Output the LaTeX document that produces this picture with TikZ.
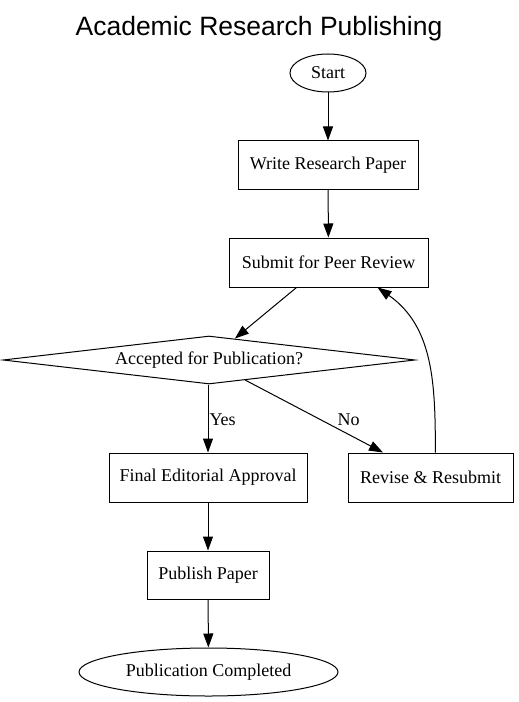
\documentclass[tikz,border=0pt]{standalone}
\usepackage{fontspec}
\setmainfont{Liberation Serif}
\newfontfamily\titlefont{Liberation Sans}
\usetikzlibrary{shapes.geometric,arrows.meta}
\begin{document}
\begin{tikzpicture}[x=1bp,y=-1bp,
  every node/.style={font=\fontsize{18bp}{20bp}\selectfont, inner sep=0pt},
  proc/.style={draw, rectangle, line width=1bp},
  term/.style={draw, ellipse, line width=1bp},
  dec/.style={draw, diamond, aspect=8.5, line width=1bp},
  arr/.style={-{Triangle[length=14bp,width=10bp]}, line width=1bp},
  lbl/.style={font=\fontsize{18bp}{20bp}\selectfont}]
\fill[white] (0,0) rectangle (519,702);
\useasboundingbox (0,0) rectangle (519,702);
\node[anchor=base, font=\titlefont\fontsize{26.5bp}{30bp}\selectfont] (title) at (259,36) {Academic Research Publishing};
\node[term, minimum width=76bp, minimum height=38bp] (start) at (328,73) {Start};
\node[proc, minimum width=180bp, minimum height=48bp] (write) at (328,165) {Write Research Paper};
\node[proc, minimum width=199bp, minimum height=49bp] (submit) at (328.5,262.5) {Submit for Peer Review};
\node[dec, minimum width=412bp, minimum height=48bp] (accept) at (209,360) {Accepted for Publication?};
\node[proc, minimum width=198bp, minimum height=49bp] (final) at (208,477.5) {Final Editorial Approval};
\node[proc, minimum width=165bp, minimum height=49bp] (revise) at (430.5,477.5) {Revise \& Resubmit};
\node[proc, minimum width=122bp, minimum height=48bp] (publish) at (208,575) {Publish Paper};
\node[term, minimum width=259bp, minimum height=48bp] (done) at (208.5,672) {Publication Completed};

\draw[arr] (start) -- (write);
\draw[arr] (write) -- (submit);
\draw[arr] (submit.218.8) -- (accept);
\draw[arr] (accept.south -| final.north) -- node[lbl, pos=0.52, right=1bp] (yes) {Yes} (final);
\draw[arr] (accept.-29) -- node[lbl, pos=0.75, yshift=15bp] (no) {No} (revise);
\draw[arr] (revise.79.6) to[out=90, in=-35] (submit.-27.8);
\draw[arr] (final) -- (publish);
\draw[arr] (publish) -- (done);
\end{tikzpicture}
\end{document}
